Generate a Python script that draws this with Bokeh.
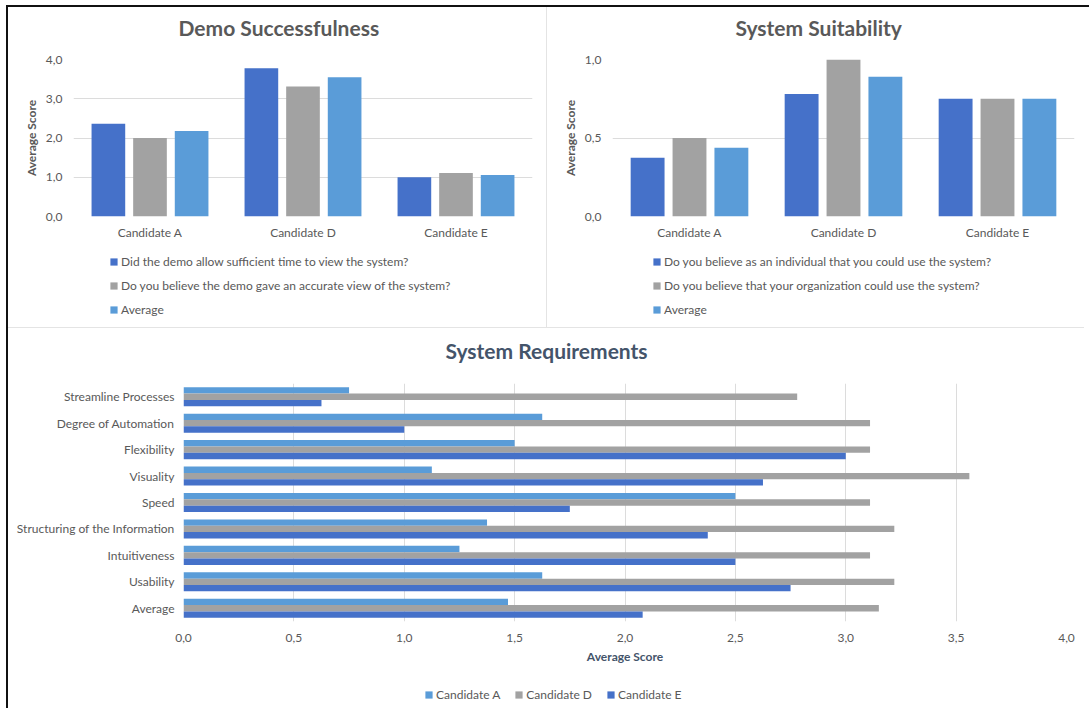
from bokeh.plotting import figure
from bokeh.models import (ColumnDataSource, FactorRange, Range1d, FixedTicker,
                          CustomJSTickFormatter, Legend, LegendItem, Spacer, Title)
from bokeh.layouts import row, column
from bokeh.transform import dodge
from bokeh.embed import file_html
from bokeh.resources import INLINE

# ---------------- data ----------------
candidates = ["Candidate A", "Candidate D", "Candidate E"]

demo_time = [2.36, 3.78, 1.0]
demo_accurate = [2.0, 3.31, 1.11]
demo_average = [2.18, 3.55, 1.055]
demo_names = ["Did the demo allow sufficient time to view the system?",
              "Do you believe the demo gave an accurate view of the system?",
              "Average"]

suit_individual = [0.375, 0.78, 0.75]
suit_org = [0.5, 1.0, 0.75]
suit_average = [0.4375, 0.89, 0.75]
suit_names = ["Do you believe as an individual that you could use the system?",
              "Do you believe that your organization could use the system?",
              "Average"]

requirements = ["Streamline Processes", "Degree of Automation", "Flexibility",
                "Visuality", "Speed", "Structuring of the Information",
                "Intuitiveness", "Usability", "Average"]
req_a = [0.75, 1.625, 1.5, 1.125, 2.5, 1.375, 1.25, 1.625, 1.47]
req_d = [2.78, 3.11, 3.11, 3.56, 3.11, 3.22, 3.11, 3.22, 3.15]
req_e = [0.625, 1.0, 3.0, 2.625, 1.75, 2.375, 2.5, 2.75, 2.08]
req_names = ["Candidate A", "Candidate D", "Candidate E"]

demo_ticks = [0, 1, 2, 3, 4]
suit_ticks = [0, 0.5, 1.0]
req_ticks = [0, 0.5, 1.0, 1.5, 2.0, 2.5, 3.0, 3.5, 4.0]

# ---------------- style ----------------
FONT = "Lato"
TXT = "#595959"
TXT2 = "#44546A"
GRID = "#DCDCDC"
C_BLUE = "#4571C9"
C_GRAY = "#A2A2A2"
C_LIGHT = "#5A9CD8"
SEP = "#E4E4E4"


def fmt():
    return CustomJSTickFormatter(code="return tick.toFixed(1).replace('.', ',');")


def style_axis(ax):
    ax.axis_line_color = None
    ax.major_tick_line_color = None
    ax.minor_tick_line_color = None
    ax.major_tick_out = 0
    ax.major_tick_in = 0
    ax.minor_tick_out = 0
    ax.minor_tick_in = 0
    ax.major_label_text_font = FONT
    ax.major_label_text_font_size = "12px"
    ax.major_label_text_color = TXT


def set_title(p, text, offset, color, standoff):
    # a blank spacer title next to the frame, the real title above it
    p.add_layout(Title(text=" ", text_font_size="10px", standoff=4), "above")
    p.title.text = text
    p.title.align = "left"
    p.title.offset = offset
    p.title.standoff = standoff
    p.title.text_font = FONT
    p.title.text_font_size = "21px"
    p.title.text_font_style = "bold"
    p.title.text_color = color


def legend_fig(width, height, src, keys, names, colors, loc, orientation, spacing):
    """A strip below a chart that only holds the chart's legend."""
    lf = figure(width=width, height=height, x_range=Range1d(0, 1), y_range=Range1d(0, 1),
                output_backend="svg", toolbar_location=None,
                min_border=0, outline_line_color=None)
    lf.axis.visible = False
    lf.grid.visible = False
    items = []
    for k, n, c in zip(keys, names, colors):
        # legend swatch only: the renderer itself is hidden
        r = lf.vbar(x=k, top=k, width=0.1, source=src, fill_color=c,
                    line_color=None, visible=False)
        items.append(LegendItem(label=n, renderers=[r]))
    lg = Legend(items=items, location=loc, orientation=orientation,
                glyph_width=9, glyph_height=9, label_height=9, spacing=spacing,
                padding=0, margin=0, label_standoff=3,
                label_text_font=FONT, label_text_font_size="12px",
                label_text_color=TXT, border_line_color=None,
                background_fill_alpha=0)
    lf.add_layout(lg)
    return lf


def column_chart(title, src, ymax, ticks, width, mleft, mright, toffset):
    p = figure(width=width, height=244,
               x_range=FactorRange(factors=candidates, range_padding=0),
               y_range=Range1d(0, ymax),
               output_backend="svg", toolbar_location=None,
               min_border_left=mleft, min_border_right=mright,
               min_border_top=52, min_border_bottom=35)
    for key, off, col in (("s1", -0.272, C_BLUE), ("s2", 0.0, C_GRAY), ("s3", 0.272, C_LIGHT)):
        p.vbar(x=dodge("cand", off, range=p.x_range), top=key, width=0.22,
               source=src, fill_color=col, line_color=None)
    set_title(p, title, toffset, TXT, 6)

    p.yaxis.ticker = FixedTicker(ticks=ticks)
    p.yaxis.formatter = fmt()
    p.yaxis.axis_label = "Average Score"
    p.yaxis.axis_label_text_font = FONT
    p.yaxis.axis_label_text_font_size = "12px"
    p.yaxis.axis_label_text_font_style = "bold"
    p.yaxis.axis_label_text_color = TXT
    p.yaxis.axis_label_standoff = 4
    p.yaxis.major_label_standoff = 11
    style_axis(p.xaxis[0])
    style_axis(p.yaxis[0])
    p.xaxis.major_label_standoff = 8

    p.xgrid.visible = False
    p.ygrid.grid_line_color = GRID
    p.outline_line_color = None
    return p


src1 = ColumnDataSource(dict(cand=candidates, s1=demo_time, s2=demo_accurate, s3=demo_average))
src2 = ColumnDataSource(dict(cand=candidates, s1=suit_individual, s2=suit_org, s3=suit_average))

p1 = column_chart("Demo Successfulness", src1, 4, demo_ticks, 538, 65, 14, 105)
l1 = legend_fig(538, 76, src1, ["s1", "s2", "s3"], demo_names,
                [C_BLUE, C_GRAY, C_LIGHT], (36, 10), "vertical", 9)
p2 = column_chart("System Suitability", src2, 1.0, suit_ticks, 537, 65, 10, 123)
l2 = legend_fig(537, 76, src2, ["s1", "s2", "s3"], suit_names,
                [C_BLUE, C_GRAY, C_LIGHT], (40, 10), "vertical", 9)

# ---------------- bottom: horizontal bars ----------------
src3 = ColumnDataSource(dict(req=requirements, a=req_a, d=req_d, e=req_e))
p3 = figure(width=1076, height=347,
            y_range=FactorRange(factors=requirements[::-1], range_padding=0),
            x_range=Range1d(0, 4),
            output_backend="svg", toolbar_location=None,
            min_border_left=175, min_border_right=18,
            min_border_top=55, min_border_bottom=54)
for key, off, col in (("a", 0.24, C_LIGHT), ("d", 0.0, C_GRAY), ("e", -0.24, C_BLUE)):
    p3.hbar(y=dodge("req", off, range=p3.y_range), right=key, left=0, height=0.24,
            source=src3, fill_color=col, line_color=None)
set_title(p3, "System Requirements", 262, TXT2, 8)

p3.xaxis.ticker = FixedTicker(ticks=req_ticks)
p3.xaxis.formatter = fmt()
p3.xaxis.axis_label = "Average Score"
p3.xaxis.axis_label_text_font = FONT
p3.xaxis.axis_label_text_font_size = "12px"
p3.xaxis.axis_label_text_font_style = "bold"
p3.xaxis.axis_label_text_color = TXT2
style_axis(p3.xaxis[0])
style_axis(p3.yaxis[0])
p3.xaxis.axis_label_standoff = 4
p3.xaxis.major_label_standoff = 12
p3.yaxis.major_label_standoff = 9
p3.ygrid.visible = False
p3.xgrid.grid_line_color = GRID
p3.outline_line_color = None

l3 = legend_fig(1076, 33, src3, ["a", "d", "e"], req_names,
                [C_LIGHT, C_GRAY, C_BLUE], (241, 6), "horizontal", 14)

# ---------------- page layout with frame lines ----------------
sep_v = Spacer(width=1, height=320, styles={"background-color": SEP})
sep_h = Spacer(width=1076, height=1, styles={"background-color": SEP})
content = column(row(column(p1, l1), sep_v, column(p2, l2)), sep_h, p3, l3)
top_line = row(Spacer(width=6, height=2), Spacer(width=1083, height=2, styles={"background-color": "#111111"}))
body = row(Spacer(width=6, height=701),
           Spacer(width=2, height=701, styles={"background-color": "#111111"}),
           content)
page = column(Spacer(width=1089, height=5), top_line, body)

open("out.html", "w").write(file_html(page, INLINE))
